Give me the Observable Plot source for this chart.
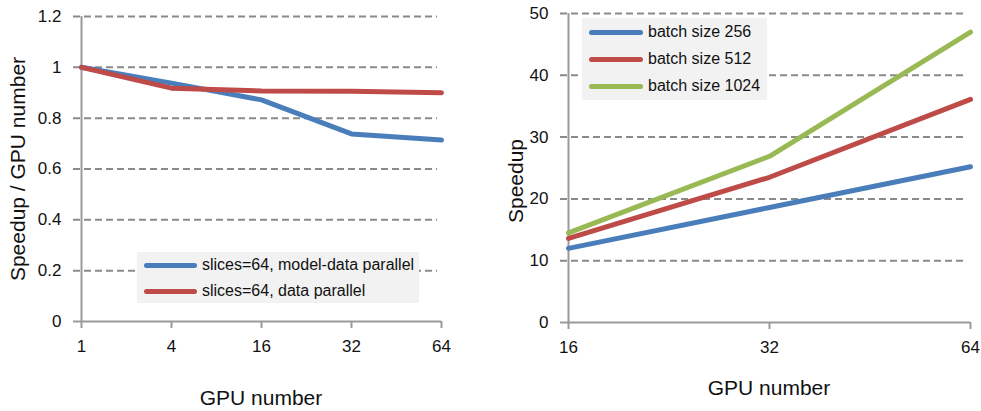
<!DOCTYPE html>
<html>
<head>
<meta charset="utf-8">
<script src="https://cdn.jsdelivr.net/npm/d3@7"></script>
<script src="https://cdn.jsdelivr.net/npm/@observablehq/plot@0.6"></script>
<style>
  html, body { margin: 0; padding: 0; background: #fff; }
  #wrap { position: relative; width: 981px; height: 411px; font-family: "Liberation Sans", Arial, sans-serif; }
  .panel { position: absolute; top: 0; }
  .legend { position: absolute; background: #f2f2f2; font-family: "Liberation Sans", Arial, sans-serif; color: #111; }
  .legend .row { position: absolute; left: 0; display: flex; align-items: center; white-space: nowrap; }
  .legend .sw { display: inline-block; height: 5px; border-radius: 3px; }
</style>
</head>
<body>
<div id="wrap"></div>
<script>
// ---- Left chart data ----
const leftGPUs = ["1", "4", "16", "32", "64"];
const leftSeries = ["slices=64, model-data parallel", "slices=64, data parallel"];
const leftModelData = [1.0, 0.938, 0.872, 0.738, 0.714];
const leftData = [1.0, 0.918, 0.907, 0.906, 0.900];
const leftYTicks = [0, 0.2, 0.4, 0.6, 0.8, 1, 1.2];

// ---- Right chart data ----
const rightGPUs = ["16", "32", "64"];
const rightSeries = ["batch size 256", "batch size 512", "batch size 1024"];
const batch256 = [12.0, 18.6, 25.2];
const batch512 = [13.6, 23.5, 36.1];
const batch1024 = [14.5, 26.9, 47.0];
const rightYTicks = [0, 10, 20, 30, 40, 50];

const blue = "#4a7ebb", red = "#be4b48", green = "#98b954";
const leftColors = [blue, red];
const rightColors = [blue, red, green];

const FONT = "'Liberation Sans', Arial, sans-serif";
const gridColor = "#8a8a8a", axisColor = "#9a9a9a", textColor = "#111";

function buildRows(xs, seriesNames, valueArrays) {
  const rows = [];
  seriesNames.forEach((s, i) => xs.forEach((x, j) => rows.push({gpu: x, series: s, v: valueArrays[i][j]})));
  return rows;
}

function chart({width, mL, mR, mT, mB, xs, rows, seriesNames, colors, yDomain, yTicks, yFmt, yLabel, yLabelDx, yLabelDy, xLabelDy, gridInsetRight}) {
  return Plot.plot({
    width, height: 411,
    marginLeft: mL, marginRight: mR, marginTop: mT, marginBottom: mB,
    style: {fontFamily: FONT, background: "transparent", overflow: "visible"},
    x: {type: "point", domain: xs, padding: 0, axis: null},
    y: {type: "linear", domain: yDomain, axis: null},
    color: {domain: seriesNames, range: colors},
    marks: [
      Plot.ruleY(yTicks.filter(d => d !== 0), {stroke: gridColor, strokeWidth: 2, strokeDasharray: "7,4", insetLeft: -7, insetRight: gridInsetRight}),
      Plot.ruleX([xs[0]], {y1: yDomain[0], y2: yDomain[1], stroke: axisColor, strokeWidth: 2}),
      Plot.ruleY([0], {stroke: axisColor, strokeWidth: 2, insetLeft: -7}),
      Plot.axisX(xs, {label: null, tickSize: 7, tickPadding: 11, fontSize: 17, stroke: axisColor, fill: textColor, strokeWidth: 2}),
      Plot.axisY(yTicks, {label: null, tickSize: 0, tickPadding: 19, fontSize: 17, fill: textColor, tickFormat: yFmt}),
      Plot.line(rows, {x: "gpu", y: "v", z: "series", stroke: "series", strokeWidth: 5, strokeLinecap: "round", strokeLinejoin: "round"}),
      Plot.text([yLabel], {frameAnchor: "left", textAnchor: "middle", lineAnchor: "middle", rotate: -90, dx: yLabelDx, dy: yLabelDy, fontSize: 21, fill: textColor}),
      Plot.text(["GPU number"], {frameAnchor: "bottom", textAnchor: "middle", lineAnchor: "middle", dy: xLabelDy, fontSize: 21, fill: textColor})
    ]
  });
}

const wrap = document.getElementById("wrap");

// Left panel
const leftRows = buildRows(leftGPUs, leftSeries, [leftModelData, leftData]);
const left = chart({
  width: 490, mL: 80, mR: 49, mT: 16, mB: 90,
  xs: leftGPUs, rows: leftRows, seriesNames: leftSeries, colors: leftColors,
  yDomain: [0, 1.2], yTicks: leftYTicks, yFmt: d => String(d),
  yLabel: "Speedup / GPU number", yLabelDx: -62, yLabelDy: 0, xLabelDy: 77, gridInsetRight: 4
});
const lp = document.createElement("div"); lp.className = "panel"; lp.style.left = "0px"; lp.appendChild(left); wrap.appendChild(lp);

// Right panel
const rightRows = buildRows(rightGPUs, rightSeries, [batch256, batch512, batch1024]);
const right = chart({
  width: 491, mL: 77, mR: 11, mT: 13, mB: 89,
  xs: rightGPUs, rows: rightRows, seriesNames: rightSeries, colors: rightColors,
  yDomain: [0, 50], yTicks: rightYTicks, yFmt: d => String(d),
  yLabel: "Speedup", yLabelDx: -51, yLabelDy: 13, xLabelDy: 66, gridInsetRight: 5
});
const rp = document.createElement("div"); rp.className = "panel"; rp.style.left = "490px"; rp.appendChild(right); wrap.appendChild(rp);

// Legends (HTML, built from series arrays)
function legend({left, top, width, height, names, colors, rowYs, swLeft, swWidth, fontSize}) {
  const box = document.createElement("div");
  box.className = "legend";
  Object.assign(box.style, {left: left + "px", top: top + "px", width: width + "px", height: height + "px", fontSize: fontSize + "px"});
  names.forEach((n, i) => {
    const row = document.createElement("div");
    row.className = "row";
    row.style.top = (rowYs[i] - 10) + "px";
    row.style.height = "20px";
    row.style.left = swLeft + "px";
    const sw = document.createElement("span");
    sw.className = "sw";
    sw.style.width = swWidth + "px";
    sw.style.background = colors[i];
    sw.style.marginRight = "5px";
    const t = document.createElement("span");
    t.textContent = n;
    row.appendChild(sw); row.appendChild(t);
    box.appendChild(row);
  });
  wrap.appendChild(box);
}
legend({left: 137, top: 252, width: 282, height: 51, names: leftSeries, colors: leftColors, rowYs: [13, 39], swLeft: 7, swWidth: 53, fontSize: 16});
legend({left: 582, top: 18, width: 185, height: 82, names: rightSeries, colors: rightColors, rowYs: [14, 41, 68], swLeft: 7, swWidth: 54, fontSize: 16});
</script>
</body>
</html>
